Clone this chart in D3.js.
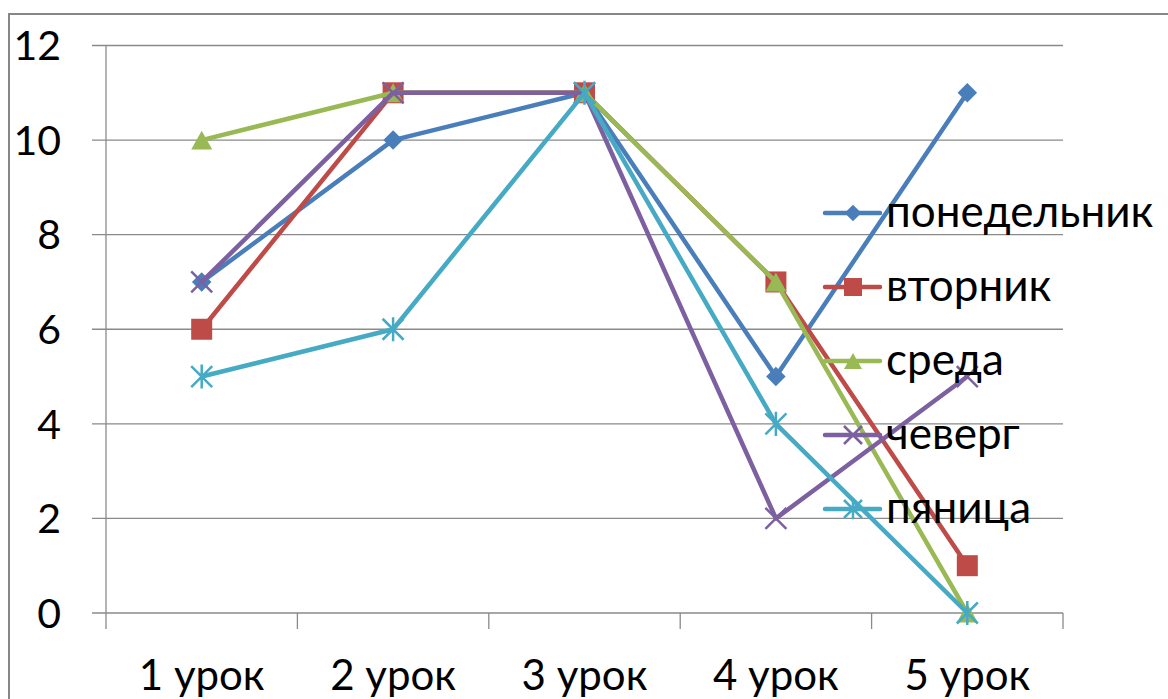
<!DOCTYPE html>
<html>
<head>
<meta charset="UTF-8">
<style>
  body { margin: 0; background: #fff; }
  svg { display: block; }
  text { font-family: Lato, "Open Sans", "Noto Sans", sans-serif; fill: #000; }
</style>
</head>
<body>
<script src="https://cdnjs.cloudflare.com/ajax/libs/d3/7.8.5/d3.min.js"></script>
<script>
var lessons = ['1 урок', '2 урок', '3 урок', '4 урок', '5 урок'];
var yTicks = [0, 2, 4, 6, 8, 10, 12];

var days = ['понедельник', 'вторник', 'среда', 'чеверг', 'пяница'];
var mon = [7, 10, 11, 5, 11];
var tue = [6, 11, 11, 7, 1];
var wed = [10, 11, 11, 7, 0];
var thu = [7, 11, 11, 2, 5];
var fri = [5, 6, 11, 4, 0];

var colors = ['#4a7ebb', '#be4b48', '#98b954', '#7d60a0', '#46aac5'];
var shapes = ['diamond', 'square', 'triangle', 'cross', 'star'];
var series = [mon, tue, wed, thu, fri];

var W = 1168, H = 699;
var svg = d3.select('body').append('svg').attr('width', W).attr('height', H);

// chart frame
svg.append('rect')
  .attr('x', 9).attr('y', 14).attr('width', W + 20).attr('height', H + 20)
  .attr('fill', 'none').attr('stroke', '#878787').attr('stroke-width', 2);

var x = d3.scaleBand().domain(lessons).range([106, 1063]);
var y = d3.scaleLinear().domain([0, 12]).range([613, 45.5]);

// gridlines
svg.append('g').selectAll('line').data(yTicks).enter().append('line')
  .attr('x1', 92).attr('x2', 1063)
  .attr('y1', d => y(d)).attr('y2', d => y(d))
  .attr('stroke', '#8a8a8a').attr('stroke-width', 1.3);

// y axis
svg.append('line').attr('x1', 106).attr('x2', 106)
  .attr('y1', y(12)).attr('y2', y(0))
  .attr('stroke', '#8a8a8a').attr('stroke-width', 1.3);

svg.append('g').selectAll('text').data(yTicks).enter().append('text')
  .attr('x', 61).attr('y', d => y(d))
  .attr('dy', '0.36em').attr('text-anchor', 'end')
  .attr('font-size', 41)
  .text(d => d);

// x axis ticks
var bounds = lessons.map(d => x(d)).concat([x.range()[1]]);
svg.append('g').selectAll('line').data(bounds).enter().append('line')
  .attr('x1', d => d).attr('x2', d => d)
  .attr('y1', y(0)).attr('y2', y(0) + 16)
  .attr('stroke', '#8a8a8a').attr('stroke-width', 1.3);

svg.append('g').selectAll('text').data(lessons).enter().append('text')
  .attr('x', d => x(d) + x.bandwidth() / 2).attr('y', 690)
  .attr('text-anchor', 'middle').attr('font-size', 42)
  .text(d => d);

function drawMarker(g, shape, color, s) {
  if (shape === 'diamond') {
    g.append('path').attr('d', d3.symbol().type(d3.symbolDiamond2 || d3.symbolDiamond).size(s * s * 0.55)())
      .attr('fill', color);
  } else if (shape === 'square') {
    g.append('rect').attr('x', -s / 2).attr('y', -s / 2).attr('width', s).attr('height', s)
      .attr('fill', color);
  } else if (shape === 'triangle') {
    var h = s * 0.9;
    g.append('path').attr('d', 'M0,' + (-h / 2) + 'L' + (s / 2) + ',' + (h / 2) + 'L' + (-s / 2) + ',' + (h / 2) + 'Z')
      .attr('fill', color);
  } else if (shape === 'cross') {
    var r = s / 2;
    g.append('path').attr('d', 'M' + -r + ',' + -r + 'L' + r + ',' + r + 'M' + r + ',' + -r + 'L' + -r + ',' + r)
      .attr('stroke', color).attr('stroke-width', 2.5).attr('fill', 'none');
  } else if (shape === 'star') {
    var r2 = s / 2;
    g.append('path').attr('d', 'M' + -r2 + ',' + -r2 + 'L' + r2 + ',' + r2 + 'M' + r2 + ',' + -r2 + 'L' + -r2 + ',' + r2 + 'M0,' + -r2 * 1.15 + 'L0,' + r2 * 1.15)
      .attr('stroke', color).attr('stroke-width', 2.5).attr('fill', 'none');
  }
}

var line = d3.line()
  .x((d, i) => x(lessons[i]) + x.bandwidth() / 2)
  .y(d => y(d));

series.forEach(function (vals, k) {
  var g = svg.append('g');
  g.append('path').datum(vals).attr('d', line)
    .attr('fill', 'none').attr('stroke', colors[k]).attr('stroke-width', 4.5)
    .attr('stroke-linejoin', 'round');
  vals.forEach(function (v, i) {
    var m = g.append('g').attr('transform', 'translate(' + (x(lessons[i]) + x.bandwidth() / 2) + ',' + y(v) + ')');
    drawMarker(m, shapes[k], colors[k], 21);
  });
});

// legend
var leg = svg.append('g');
days.forEach(function (name, k) {
  var ly = 213 + k * 74;
  leg.append('line').attr('x1', 825).attr('x2', 880).attr('y1', ly).attr('y2', ly)
    .attr('stroke', colors[k]).attr('stroke-width', 4.5).attr('stroke-linecap', 'round');
  var m = leg.append('g').attr('transform', 'translate(853,' + ly + ')');
  drawMarker(m, shapes[k], colors[k], 18);
  leg.append('text').attr('x', 886).attr('y', ly).attr('dy', '0.32em')
    .attr('font-size', 44).text(name);
});
</script>
</body>
</html>
